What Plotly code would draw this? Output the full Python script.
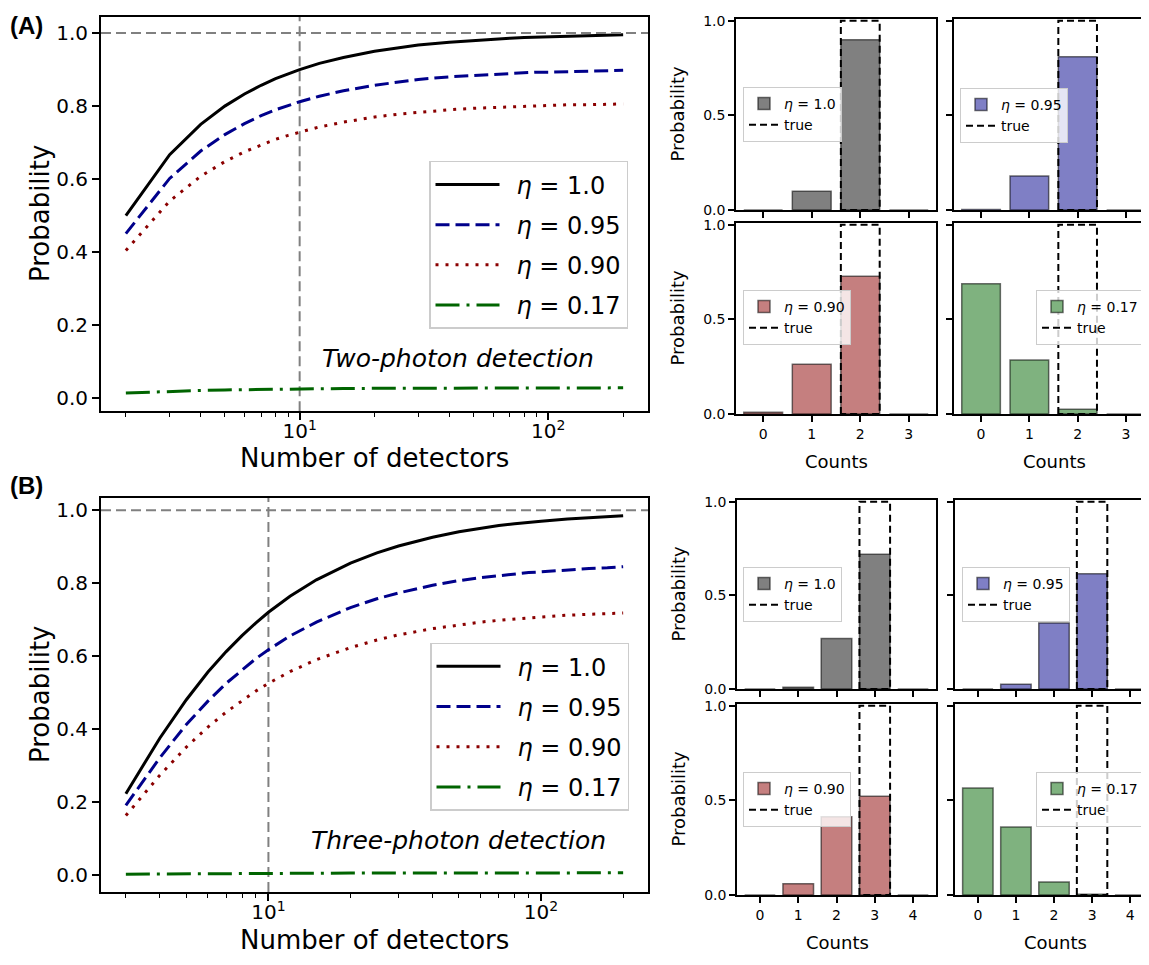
import math
import plotly.graph_objects as go

W, H = 1149, 965
OFF = 8  # page body margin of the exported HTML
FONT = "DejaVu Sans"

# ---------------- data: curves ----------------
N_two = [2, 3, 4, 5, 6, 7, 8, 9, 10, 12, 15, 20, 25, 30, 40, 50, 60, 70, 80, 90, 100, 125, 150, 175, 200]
two_eta100 = [0.500, 0.667, 0.750, 0.800, 0.833, 0.857, 0.875, 0.889, 0.900, 0.917, 0.933, 0.950, 0.960,
              0.967, 0.975, 0.980, 0.983, 0.986, 0.988, 0.989, 0.990, 0.992, 0.993, 0.994, 0.995]
two_eta095 = [0.451, 0.602, 0.677, 0.722, 0.752, 0.774, 0.790, 0.802, 0.812, 0.827, 0.842, 0.857, 0.866,
              0.873, 0.880, 0.884, 0.887, 0.890, 0.891, 0.893, 0.893, 0.895, 0.896, 0.897, 0.898]
two_eta090 = [0.405, 0.540, 0.608, 0.648, 0.675, 0.694, 0.709, 0.720, 0.729, 0.743, 0.756, 0.770, 0.778,
              0.783, 0.790, 0.794, 0.796, 0.799, 0.800, 0.801, 0.802, 0.804, 0.804, 0.805, 0.806]
two_eta017 = [0.0145, 0.0193, 0.0217, 0.0231, 0.0241, 0.0248, 0.0253, 0.0257, 0.0260, 0.0265, 0.0270,
              0.0275, 0.0277, 0.0279, 0.0282, 0.0283, 0.0284, 0.0285, 0.0286, 0.0286, 0.0286, 0.0287,
              0.0287, 0.0287, 0.0288]

N_three = [3, 4, 5, 6, 7, 8, 9, 10, 12, 15, 20, 25, 30, 40, 50, 60, 70, 80, 90, 100, 125, 150, 175, 200]
three_eta100 = [0.222, 0.375, 0.480, 0.556, 0.612, 0.656, 0.691, 0.720, 0.764, 0.809, 0.855, 0.883,
                0.902, 0.926, 0.941, 0.951, 0.958, 0.963, 0.967, 0.970, 0.976, 0.980, 0.983, 0.985]
three_eta095 = [0.190, 0.321, 0.412, 0.476, 0.525, 0.562, 0.593, 0.617, 0.655, 0.693, 0.733, 0.757,
                0.773, 0.794, 0.807, 0.815, 0.821, 0.825, 0.829, 0.831, 0.837, 0.840, 0.842, 0.845]
three_eta090 = [0.162, 0.273, 0.350, 0.405, 0.446, 0.478, 0.504, 0.525, 0.557, 0.590, 0.623, 0.644,
                0.658, 0.675, 0.686, 0.693, 0.698, 0.702, 0.705, 0.707, 0.712, 0.714, 0.717, 0.718]
three_eta017 = [0.0011, 0.0018, 0.0024, 0.0027, 0.0030, 0.0032, 0.0034, 0.0035, 0.0038, 0.0040, 0.0042,
                0.0043, 0.0044, 0.0045, 0.0046, 0.0047, 0.0047, 0.0047, 0.0048, 0.0048, 0.0048, 0.0048,
                0.0048, 0.0048]

eta_labels = ["<i>η</i> = 1.0", "<i>η</i> = 0.95", "<i>η</i> = 0.90", "<i>η</i> = 0.17"]
n_marker = 10  # dashed vertical reference: number of detectors

# ---------------- data: count histograms ----------------
counts_two = [0, 1, 2, 3]
hist_two_eta100 = [0.0, 0.10, 0.90, 0.0]
hist_two_eta095 = [0.003, 0.18, 0.81, 0.0]
hist_two_eta090 = [0.01, 0.263, 0.728, 0.0]
hist_two_eta017 = [0.688, 0.286, 0.026, 0.0]
true_two = [0, 0, 1, 0]

counts_three = [0, 1, 2, 3, 4]
hist_three_eta100 = [0.0, 0.01, 0.27, 0.72, 0.0]
hist_three_eta095 = [0.0, 0.026, 0.352, 0.615, 0.0]
hist_three_eta090 = [0.0, 0.06, 0.414, 0.522, 0.0]
hist_three_eta017 = [0.566, 0.359, 0.069, 0.004, 0.0]
true_three = [0, 0, 0, 1, 0]

# ---------------- styles ----------------
line_colors = ["#000000", "#00008b", "#8b0000", "#006400"]
line_dash = ["solid", "14px,6px", "3px,7px", "24px,7px,3px,7px"]
bar_fill = ["#808080", "#7f7fc5", "#c57f7f", "#7fb27f"]
bar_edge = "rgba(0,0,0,0.55)"


def pxx(x):
    return (x - OFF) / W


def pyy(y):
    return 1 - (y - OFF) / H


fig = go.Figure()
layout = {}
annotations = []
shapes = []


def axname(i, kind):
    return kind + ("axis" if i == 1 else "axis%d" % i)


def ref(i, kind):
    return kind if i == 1 else "%s%d" % (kind, i)


def legname(i):
    return "legend" if i == 1 else "legend%d" % i


# ---------------- main line panels ----------------
main_panels = [
    dict(idx=1, N=N_two, series=[two_eta100, two_eta095, two_eta090, two_eta017],
         xd=(101, 648), yd=(11, 411), xr=(math.log10(2) - 0.1, math.log10(200) + 0.1),
         yr=(-0.035, 1.044), leg=1, legpos=(429, 157), text="Two-photon detection", ty=358,
         title_y=459),
    dict(idx=2, N=N_three, series=[three_eta100, three_eta095, three_eta090, three_eta017],
         xd=(101, 648), yd=(499, 899), xr=(math.log10(3) - 0.0912, math.log10(200) + 0.0912),
         yr=(-0.048, 1.034), leg=2, legpos=(430, 646), text="Three-photon detection", ty=847,
         title_y=948),
]

minor_vals = [2, 3, 4, 5, 6, 7, 8, 9, 20, 30, 40, 50, 60, 70, 80, 90, 200]

for p in main_panels:
    i = p["idx"]
    # vertical dashed reference line at N = 10
    fig.add_trace(go.Scatter(
        x=[n_marker, n_marker], y=[p["yr"][0], p["yr"][1]], mode="lines", showlegend=False,
        line=dict(color="gray", width=2, dash="10px,5px"),
        xaxis=ref(i, "x"), yaxis=ref(i, "y"), hoverinfo="skip"))
    for k, ser in enumerate(p["series"]):
        fig.add_trace(go.Scatter(
            x=p["N"], y=ser, mode="lines", name="\u2002" + eta_labels[k],
            line=dict(color=line_colors[k], width=3, dash=line_dash[k]),
            xaxis=ref(i, "x"), yaxis=ref(i, "y"), legend=legname(p["leg"]),
            legendgroup="m%d_%d" % (i, k), hoverinfo="skip"))
    layout[axname(i, "x")] = dict(
        type="log", domain=[pxx(p["xd"][0]), pxx(p["xd"][1])], range=list(p["xr"]),
        anchor=ref(i, "y"), showline=True, linecolor="black", linewidth=1.8, mirror=True,
        ticks="outside", ticklen=7, tickwidth=1.5, tickcolor="black", ticklabelstandoff=-6,
        tickmode="array", tickvals=[10, 100], ticktext=["10<sup>1</sup>", "10<sup>2</sup>"],
        tickfont=dict(family=FONT, size=20, color="black"), showgrid=False, zeroline=False,
        minor=dict(tickmode="array", tickvals=minor_vals, ticks="outside", ticklen=4,
                   tickwidth=1.2, tickcolor="black", showgrid=False))
    layout[axname(i, "y")] = dict(
        domain=[pyy(p["yd"][1]), pyy(p["yd"][0])], range=list(p["yr"]), anchor=ref(i, "x"),
        showline=True, linecolor="black", linewidth=1.8, mirror=True,
        ticks="outside", ticklen=7, tickwidth=1.5, tickcolor="black",
        tickmode="array", tickvals=[0, 0.2, 0.4, 0.6, 0.8, 1.0],
        ticktext=["0.0", "0.2", "0.4", "0.6", "0.8", "1.0"],
        tickfont=dict(family=FONT, size=20, color="black"), showgrid=False, zeroline=False)
    # horizontal dashed reference at probability 1
    shapes.append(dict(type="line", xref=ref(i, "x") + " domain", yref=ref(i, "y"),
                       x0=0, x1=1, y0=1.0, y1=1.0,
                       line=dict(color="gray", width=2, dash="10px,5px")))
    layout[legname(p["leg"])] = dict(
        x=pxx(p["legpos"][0]), y=pyy(p["legpos"][1]), xanchor="left", yanchor="top",
        bgcolor="rgba(255,255,255,0.8)", bordercolor="#cccccc", borderwidth=1.5,
        font=dict(family=FONT, size=24, color="black"), itemwidth=64, tracegroupgap=6,
        traceorder="grouped")
    annotations.append(dict(text="<i>%s</i>" % p["text"], xref="paper", yref="paper",
                            x=pxx(458), y=pyy(p["ty"]), xanchor="center", yanchor="middle",
                            showarrow=False, font=dict(family=FONT, size=25, color="black")))
    annotations.append(dict(text="Number of detectors", xref="paper", yref="paper",
                            x=pxx(374), y=pyy(p["title_y"]), xanchor="center", yanchor="middle",
                            showarrow=False, font=dict(family=FONT, size=26, color="black")))
    annotations.append(dict(text="Probability", xref="paper", yref="paper", textangle=-90,
                            x=pxx(40), y=pyy((p["yd"][0] + p["yd"][1]) / 2), xanchor="center",
                            yanchor="middle", showarrow=False,
                            font=dict(family=FONT, size=26, color="black")))

# ---------------- bar panels ----------------
bar_panels = [
    # two-photon
    dict(idx=3, counts=counts_two, vals=hist_two_eta100, true=true_two, c=0, xd=(736, 936), yd=(13, 207),
         xr=(-0.56, 3.56), left=True, bottom=False, legpos=(743, 82)),
    dict(idx=4, counts=counts_two, vals=hist_two_eta095, true=true_two, c=1, xd=(954, 1153), yd=(13, 207),
         xr=(-0.56, 3.56), left=False, bottom=False, legpos=(960, 83)),
    dict(idx=5, counts=counts_two, vals=hist_two_eta090, true=true_two, c=2, xd=(736, 936), yd=(220, 414),
         xr=(-0.56, 3.56), left=True, bottom=True, legpos=(743, 288)),
    dict(idx=6, counts=counts_two, vals=hist_two_eta017, true=true_two, c=3, xd=(954, 1153), yd=(220, 414),
         xr=(-0.56, 3.56), left=False, bottom=True, legpos=(1036, 288)),
    # three-photon
    dict(idx=7, counts=counts_three, vals=hist_three_eta100, true=true_three, c=0, xd=(737, 936), yd=(501, 693),
         xr=(-0.6, 4.6), left=True, bottom=False, legpos=(743, 569)),
    dict(idx=8, counts=counts_three, vals=hist_three_eta095, true=true_three, c=1, xd=(955, 1153), yd=(501, 693),
         xr=(-0.6, 4.6), left=False, bottom=False, legpos=(962, 569)),
    dict(idx=9, counts=counts_three, vals=hist_three_eta090, true=true_three, c=2, xd=(737, 936), yd=(708, 902),
         xr=(-0.6, 4.6), left=True, bottom=True, legpos=(743, 777)),
    dict(idx=10, counts=counts_three, vals=hist_three_eta017, true=true_three, c=3, xd=(955, 1153), yd=(708, 902),
         xr=(-0.6, 4.6), left=False, bottom=True, legpos=(1036, 777)),
]

for p in bar_panels:
    i = p["idx"]
    leg = legname(i)
    fig.add_trace(go.Bar(
        x=p["counts"], y=p["vals"], width=0.8, name=eta_labels[p["c"]],
        marker=dict(color=bar_fill[p["c"]], line=dict(color=bar_edge, width=1.5)),
        xaxis=ref(i, "x"), yaxis=ref(i, "y"), legend=leg, legendgroup="b%d" % i, hoverinfo="skip"))
    tx, ty = [], []
    for cnt, v in zip(p["counts"], p["true"]):
        if v > 0:
            tx += [cnt - 0.4, cnt - 0.4, cnt + 0.4, cnt + 0.4, cnt - 0.4, None]
            ty += [0, v, v, 0, 0, None]
    fig.add_trace(go.Scatter(
        x=tx, y=ty, mode="lines", name="true",
        line=dict(color="black", width=2, dash="7px,4px"),
        xaxis=ref(i, "x"), yaxis=ref(i, "y"), legend=leg, legendgroup="t%d" % i, hoverinfo="skip"))
    layout[axname(i, "x")] = dict(
        domain=[pxx(p["xd"][0]), pxx(p["xd"][1])], range=list(p["xr"]), anchor=ref(i, "y"),
        showline=True, linecolor="black", linewidth=1.5, mirror=True,
        ticks="outside", ticklen=6, tickwidth=1.5, tickcolor="black",
        tickmode="array", tickvals=p["counts"], ticktext=[str(c) for c in p["counts"]],
        showticklabels=p["bottom"], tickfont=dict(family=FONT, size=14, color="black"),
        showgrid=False, zeroline=False)
    layout[axname(i, "y")] = dict(
        domain=[pyy(p["yd"][1]), pyy(p["yd"][0])], range=[0, 1.01], anchor=ref(i, "x"),
        showline=True, linecolor="black", linewidth=1.5, mirror=True,
        ticks="outside", ticklen=6, tickwidth=1.5, tickcolor="black",
        tickmode="array", tickvals=[0, 0.5, 1.0], ticktext=["0.0", "0.5", "1.0"],
        showticklabels=p["left"], tickfont=dict(family=FONT, size=14, color="black"),
        showgrid=False, zeroline=False)
    layout[leg] = dict(
        x=pxx(p["legpos"][0]), y=pyy(p["legpos"][1]), xanchor="left", yanchor="top",
        bgcolor="rgba(255,255,255,0.8)", bordercolor="#cccccc", borderwidth=1,
        font=dict(family=FONT, size=14, color="black"), itemwidth=30, tracegroupgap=0,
        traceorder="normal")
    if p["left"]:
        annotations.append(dict(text="Probability", xref="paper", yref="paper", textangle=-90,
                                x=pxx(678), y=pyy((p["yd"][0] + p["yd"][1]) / 2),
                                xanchor="center", yanchor="middle", showarrow=False,
                                font=dict(family=FONT, size=18, color="black")))
    if p["bottom"]:
        cy = 462 if i <= 6 else 950
        annotations.append(dict(text="Counts", xref="paper", yref="paper",
                                x=pxx((p["xd"][0] + p["xd"][0] + 200) / 2), y=pyy(cy),
                                xanchor="center", yanchor="middle", showarrow=False,
                                font=dict(family=FONT, size=18, color="black")))

# panel labels
annotations.append(dict(text="<b>(A)</b>", xref="paper", yref="paper", x=pxx(8), y=pyy(20),
                        xanchor="left", yanchor="middle", showarrow=False,
                        font=dict(family="Liberation Sans", size=24, color="black")))
annotations.append(dict(text="<b>(B)</b>", xref="paper", yref="paper", x=pxx(8), y=pyy(486),
                        xanchor="left", yanchor="middle", showarrow=False,
                        font=dict(family="Liberation Sans", size=24, color="black")))

fig.update_layout(
    width=W, height=H, margin=dict(l=0, r=0, t=0, b=0),
    paper_bgcolor="white", plot_bgcolor="white", showlegend=True,
    barmode="overlay", font=dict(family=FONT, color="black"),
    annotations=annotations, shapes=shapes, **layout)

fig.write_html("out.html")
